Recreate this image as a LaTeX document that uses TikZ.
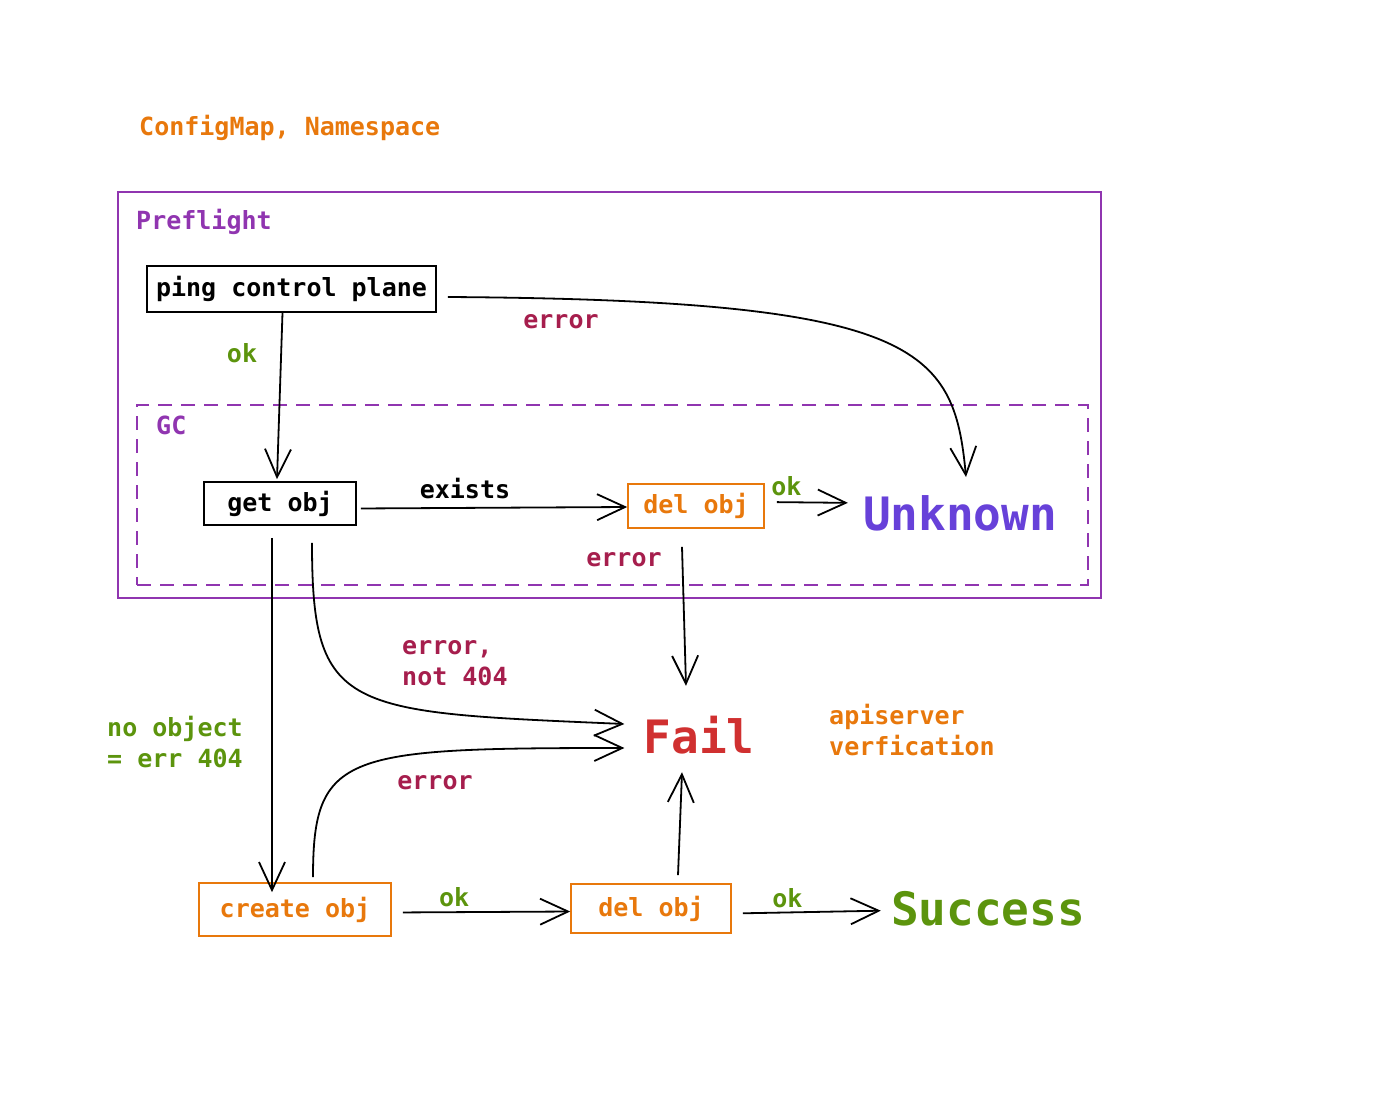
\documentclass[tikz,border=0pt]{standalone}
\usepackage{fontspec}
\setmonofont{DejaVu Sans Mono}
\usetikzlibrary{arrows.meta, positioning, calc}

\definecolor{cmorange}{HTML}{E8780C}
\definecolor{cmpurple}{HTML}{9035B0}
\definecolor{cmviolet}{HTML}{6741D9}
\definecolor{cmcrimson}{HTML}{A61E4D}
\definecolor{cmgreen}{HTML}{5C940D}
\definecolor{cmred}{HTML}{D03030}

\begin{document}
\begin{tikzpicture}[
  x=1pt, y=-1pt,
  >={Straight Barb[length=28pt,width=26pt]},
  txt/.style={font=\ttfamily\bfseries\fontsize{25}{31}\selectfont, inner sep=0pt, align=left},
  bigtxt/.style={font=\ttfamily\bfseries\fontsize{46}{52}\selectfont, inner sep=0pt},
  opnode/.style={draw, line width=1.6pt, txt, align=center},
  apinode/.style={opnode, draw=cmorange, text=cmorange},
  flow/.style={->, line width=1.8pt, black},
  errlabel/.style={txt, text=cmcrimson},
  oklabel/.style={txt, text=cmgreen},
  groupbox/.style={draw=cmpurple, line width=2pt, inner sep=0pt},
  grouplabel/.style={txt, text=cmpurple, anchor=west}
]
\useasboundingbox (0,0) rectangle (1400,1100);

% Resource kinds
\node[txt, text=cmorange, anchor=west] (kinds) at (139,128) {ConfigMap, Namespace};

% Groups
\node[groupbox, minimum width=983pt, minimum height=406pt] (preflight) at (609.5,395) {};
\node[grouplabel] (preflightlbl) at (136,222) {Preflight};
\node[groupbox, line width=1.8pt, dash pattern=on 14pt off 9pt, minimum width=951pt, minimum height=180pt] (gc) at (612.5,495) {};
\node[grouplabel] (gclbl) at (156,425) {GC};

% Steps
\node[opnode, minimum width=289pt, minimum height=46pt] (ping) at (291.5,289) {ping control plane};
\node[opnode, minimum width=152pt, minimum height=43pt] (getobj) at (280,503.5) {get obj};
\node[apinode, minimum width=136pt, minimum height=44pt] (delobjA) at (696,506) {del obj};
\node[bigtxt, text=cmviolet] (unknown) at (960,513) {Unknown};
\node[bigtxt, text=cmred] (fail) at (699,735) {Fail};
\node[apinode, minimum width=192pt, minimum height=53pt] (createobj) at (295,909.5) {create obj};
\node[apinode, minimum width=160pt, minimum height=49pt] (delobjB) at (651,908.5) {del obj};
\node[bigtxt, text=cmgreen] (success) [right=159pt of delobjB] {Success};

% Notes
\node[txt, text=cmorange, anchor=west] (apinote) at (829,730) {apiserver\\verfication};
\node[errlabel] (pingerr) at (561,322) {error};
\node[oklabel] (pingok) at (242,353) {ok};
\node[errlabel] (delerr) at (624,560) {error};
\node[errlabel, anchor=west] (geterr) at (402,663) {error,\\not 404};
\node[errlabel] (createerr) at (435,783) {error};
\node[oklabel, anchor=west] (noobj) at (107,742) {no object\\= err 404};

% Flows
\draw[flow] ([xshift=11pt,yshift=-8pt]ping.east) .. controls +(470,3) and +(-12,-130) .. ([xshift=6pt,yshift=18pt]unknown.north);
\draw[flow] ([xshift=-9pt]ping.south) -- ([xshift=-3pt,yshift=2pt]getobj.north);
\draw[flow, shorten <=4pt] ([yshift=-5pt]getobj.east) -- ([yshift=-1pt]delobjA.west)
  node[txt, pos=0.4, above=8pt]{exists};
\draw[flow, shorten <=12pt, shorten >=15pt] ([yshift=4pt]delobjA.east) -- ([yshift=10pt]unknown.west)
  node[oklabel, pos=0.22, above=5pt]{ok};
\draw[flow] ([xshift=-14pt,yshift=-18pt]delobjA.south) -- ([xshift=-13pt,yshift=30pt]fail.north);
\draw[flow] ([xshift=-8pt,yshift=-12pt]getobj.south) -- ([xshift=-23pt,yshift=-10pt]createobj.north);
\draw[flow] ([xshift=32pt,yshift=-17pt]getobj.south) .. controls +(0,170) and +(-280,-12) .. ([xshift=-19pt,yshift=11pt]fail.west);
\draw[flow] ([xshift=18pt,yshift=5pt]createobj.north) .. controls +(0,-125) and +(-280,0) .. ([xshift=-19pt,yshift=-13pt]fail.west);
\draw[flow, shorten <=11pt] ([yshift=-3pt]createobj.east) -- ([yshift=-3pt]delobjB.west)
  node[oklabel, pos=0.35, above=4pt]{ok};
\draw[flow] ([xshift=27pt,yshift=8pt]delobjB.north) -- ([xshift=-17pt,yshift=-18pt]fail.south);
\draw[flow, shorten <=11pt, shorten >=10pt] ([yshift=-5pt]delobjB.east) -- ([yshift=-2pt]success.west)
  node[oklabel, pos=0.35, above=4pt]{ok};
\end{tikzpicture}
\end{document}
